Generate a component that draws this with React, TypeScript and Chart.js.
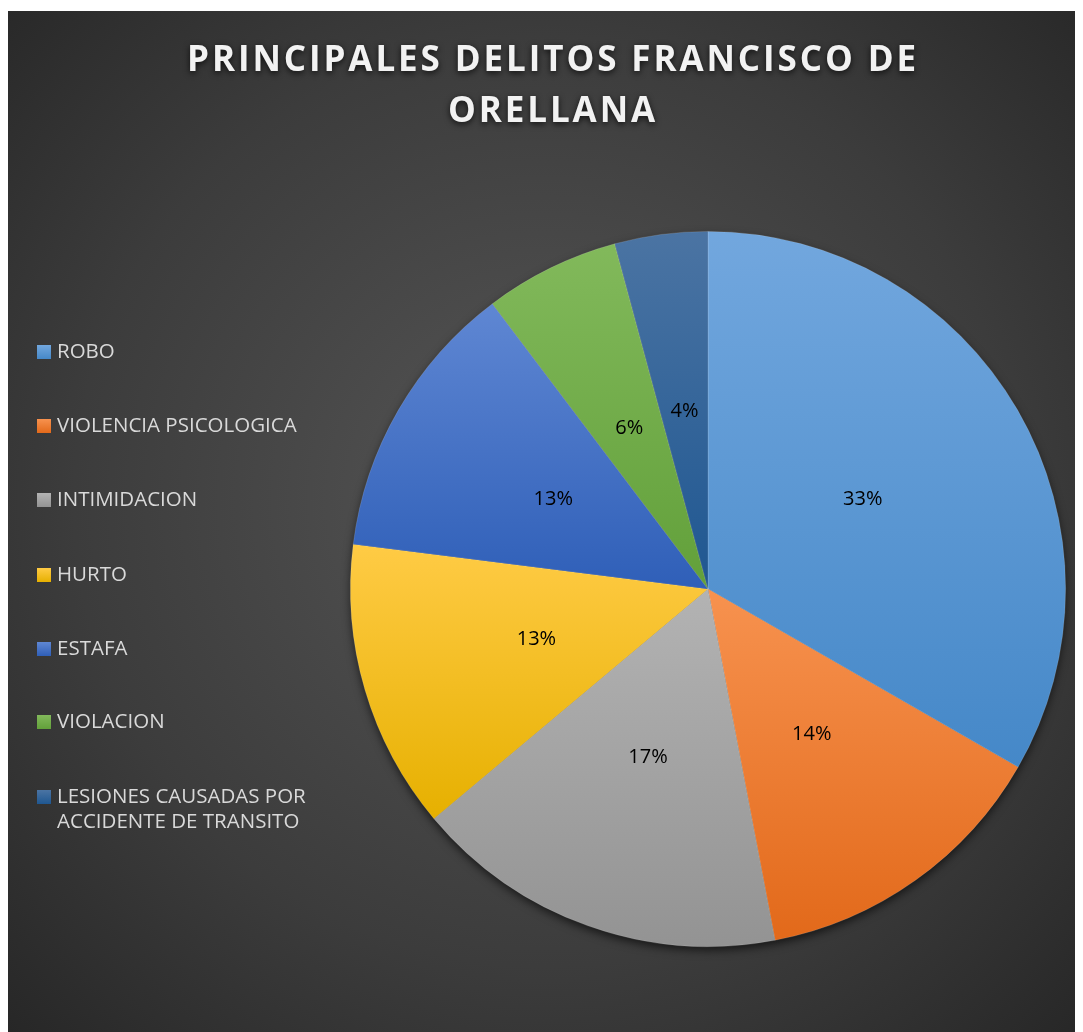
import React, { useEffect, useRef } from "react";
import { Chart, registerables } from "chart.js";

Chart.register(...registerables);

const titleLines = ["PRINCIPALES DELITOS FRANCISCO DE", "ORELLANA"];
const categories = [
  "ROBO",
  "VIOLENCIA PSICOLOGICA",
  "INTIMIDACION",
  "HURTO",
  "ESTAFA",
  "VIOLACION",
  "LESIONES CAUSADAS POR ACCIDENTE DE TRANSITO",
];
const legendLines = [
  ["ROBO"],
  ["VIOLENCIA PSICOLOGICA"],
  ["INTIMIDACION"],
  ["HURTO"],
  ["ESTAFA"],
  ["VIOLACION"],
  ["LESIONES CAUSADAS POR", "ACCIDENTE DE TRANSITO"],
];
const shares = [33.3, 13.7, 16.9, 13.1, 12.7, 6.1, 4.2];
const baseColors = ["#5B9BD5", "#ED7D31", "#A5A5A5", "#FFC000", "#4472C4", "#70AD47", "#255E91"];
const lightColors = ["#72a7de", "#f7924f", "#b3b3b3", "#ffcb45", "#5f87d3", "#82b95b", "#4b74a3"];
const darkColors = ["#4588c8", "#e2691a", "#939393", "#e6b000", "#2f5fb8", "#62a03a", "#1f5791"];

function sliceFill(c: any) {
  const i = c.dataIndex;
  const chart = c.chart;
  const area = chart.chartArea;
  if (i == null) return baseColors[0];
  if (!area) return baseColors[i];
  const cx = (area.left + area.right) / 2;
  const cy = (area.top + area.bottom) / 2;
  const r = Math.min(area.width, area.height) / 2;
  const data = chart.data.datasets[0].data as number[];
  const total = data.reduce((a, b) => a + b, 0);
  let before = 0;
  for (let k = 0; k < i; k++) before += data[k];
  const a0 = -Math.PI / 2 + (before / total) * 2 * Math.PI;
  const a1 = a0 + (data[i] / total) * 2 * Math.PI;
  const ys = [cy, cy + r * Math.sin(a0), cy + r * Math.sin(a1)];
  for (const t of [-Math.PI / 2, Math.PI / 2, (3 * Math.PI) / 2]) {
    if (t >= a0 && t <= a1) ys.push(cy + r * Math.sin(t));
  }
  const g = chart.ctx.createLinearGradient(0, Math.min(...ys), 0, Math.max(...ys));
  g.addColorStop(0, lightColors[i]);
  g.addColorStop(1, darkColors[i]);
  return g;
}

const decorPlugin = {
  id: "decor",
  beforeDatasetsDraw(chart: any) {
    const { ctx, chartArea: a } = chart;
    const cx = (a.left + a.right) / 2;
    const cy = (a.top + a.bottom) / 2;
    const r = Math.min(a.width, a.height) / 2;
    ctx.save();
    ctx.shadowColor = "rgba(0,0,0,0.65)";
    ctx.shadowBlur = 10;
    ctx.shadowOffsetY = 4;
    ctx.fillStyle = "#333";
    ctx.beginPath();
    ctx.arc(cx, cy, r - 1, 0, Math.PI * 2);
    ctx.fill();
    ctx.restore();
  },
  afterDatasetsDraw(chart: any) {
    const { ctx } = chart;
    const meta = chart.getDatasetMeta(0);
    const data = chart.data.datasets[0].data as number[];
    const total = data.reduce((a, b) => a + b, 0);
    ctx.save();
    ctx.font = "20px 'Open Sans'";
    ctx.fillStyle = "#000";
    ctx.textAlign = "center";
    ctx.textBaseline = "middle";
    meta.data.forEach((el: any, i: number) => {
      const p = el.getCenterPoint();
      ctx.fillText(Math.round((data[i] / total) * 100) + "%", p.x, p.y);
    });
    ctx.restore();
  },
  afterDraw(chart: any) {
    const { ctx } = chart;
    // title
    ctx.save();
    ctx.font = "bold 35px 'Open Sans'";
    (ctx as any).letterSpacing = "2.9px";
    ctx.fillStyle = "#f2f2f2";
    ctx.textAlign = "center";
    ctx.textBaseline = "middle";
    ctx.shadowColor = "rgba(0,0,0,0.75)";
    ctx.shadowBlur = 6;
    ctx.shadowOffsetY = 2;
    const titleY = [50, 101];
    titleLines.forEach((t, k) => ctx.fillText(t, 545, titleY[k]));
    ctx.restore();
    // legend
    ctx.save();
    ctx.font = "20.5px 'Open Sans'";
    ctx.textBaseline = "middle";
    ctx.textAlign = "left";
    const rows = [341, 415, 489, 564, 638, 711, 786];
    legendLines.forEach((lines, i) => {
      const y = rows[i];
      const g = ctx.createLinearGradient(0, y - 7, 0, y + 7);
      g.addColorStop(0, lightColors[i]);
      g.addColorStop(1, darkColors[i]);
      ctx.fillStyle = g;
      ctx.fillRect(29, y - 7, 14, 14);
      ctx.fillStyle = "#d9d9d9";
      lines.forEach((ln, k) => ctx.fillText(ln, 49, y + k * 25));
    });
    ctx.restore();
  },
};

export default function App() {
  const ref = useRef<HTMLCanvasElement | null>(null);
  useEffect(() => {
    if (!ref.current) return;
    const chart = new Chart(ref.current, {
      type: "pie",
      data: {
        labels: categories,
        datasets: [
          {
            data: shares,
            backgroundColor: sliceFill as any,
            borderColor: "rgba(255,255,255,0.18)",
            borderWidth: 0.75,
          },
        ],
      },
      options: {
        animation: false,
        responsive: true,
        maintainAspectRatio: false,
        layout: { padding: { left: 342, right: 17, top: 220, bottom: 85 } },
        plugins: {
          legend: { display: false },
          title: { display: false },
          tooltip: { enabled: false },
        },
      },
      plugins: [decorPlugin],
    });
    return () => chart.destroy();
  }, []);
  return (
    <div
      style={{
        position: "relative",
        width: 1075,
        height: 1021,
        marginTop: 3,
        background:
          "radial-gradient(farthest-corner at 50% 48%, #565656 0%, #3c3c3c 62%, #272727 100%)",
      }}
    >
      <canvas ref={ref} />
    </div>
  );
}
